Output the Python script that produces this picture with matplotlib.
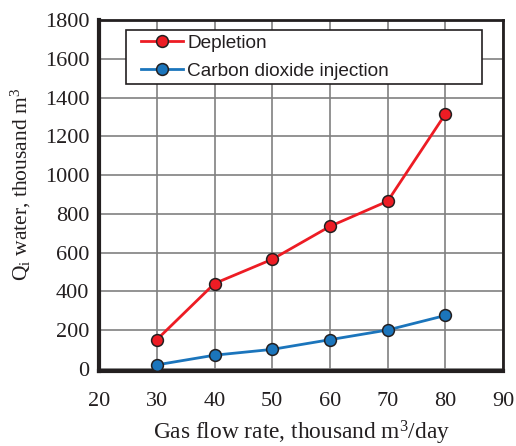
import matplotlib
matplotlib.use("Agg")
import matplotlib.pyplot as plt
from matplotlib.patches import Rectangle

flow = [30, 40, 50, 60, 70, 80]
depletion = [150, 440, 565, 735, 865, 1315]
co2_injection = [20, 70, 100, 150, 200, 275]
series_names = ["Depletion", "Carbon dioxide injection"]
xticks = [20, 30, 40, 50, 60, 70, 80, 90]
yticks = [0, 200, 400, 600, 800, 1000, 1200, 1400, 1600, 1800]

plt.rcParams["font.family"] = ["Liberation Serif"]
plt.rcParams["mathtext.fontset"] = "custom"
plt.rcParams["mathtext.rm"] = "Liberation Serif"
plt.rcParams["mathtext.it"] = "Liberation Serif:italic"
plt.rcParams["axes.formatter.use_mathtext"] = False

INK = "#231f20"
fig = plt.figure(figsize=(5.16, 4.46), dpi=100)
ax = fig.add_axes([0.192, 0.168, 0.783, 0.787])

ax.plot(flow, depletion, color="#ed1c24", lw=2, marker="o", ms=8.5,
        mfc="#ed1c24", mec=INK, mew=1.1, label=series_names[0], zorder=3)
ax.plot(flow, co2_injection, color="#1b75bc", lw=2, marker="o", ms=8.5,
        mfc="#1b75bc", mec=INK, mew=1.1, label=series_names[1], zorder=3)

ax.set_xlim(20, 90)
ax.set_ylim(-12, 1800)
ax.set_xticks(xticks)
ax.set_yticks(yticks)
ax.set_xticklabels([str(t) for t in xticks], fontfamily="Liberation Serif")
ax.set_yticklabels([str(t) for t in yticks], fontfamily="Liberation Serif")
ax.grid(True, color="#808080", lw=1.2)
ax.set_axisbelow(True)
for s in ["left", "bottom"]:
    ax.spines[s].set_linewidth(3)
for s in ["top", "right"]:
    ax.spines[s].set_linewidth(2)
for s in ax.spines.values():
    s.set_color(INK)
ax.tick_params(axis="x", length=0, pad=15, labelsize=16, labelcolor=INK)
ax.tick_params(axis="y", length=0, pad=7, labelsize=16, labelcolor=INK)

ax.set_xlabel("Gas flow rate, thousand m$^3$/day", fontsize=16.8, labelpad=6,
              color=INK)
ax.set_ylabel("Q$_\\mathrm{i}$ water, thousand m$^3$", fontsize=15.5, labelpad=10,
              color=INK)
ax.yaxis.set_label_coords(-0.163, 0.533)

# legend frame
ax.add_patch(Rectangle((0.067, 0.818), 0.881, 0.1535, transform=ax.transAxes,
                       facecolor="white", edgecolor=INK, lw=1.2, zorder=4,
                       clip_on=False))
leg = ax.legend(loc="upper left", bbox_to_anchor=(0.103, 0.959), frameon=False,
                prop={"family": "Liberation Sans", "size": 13.7}, handlelength=2.2,
                borderpad=0, labelspacing=0.56, handletextpad=0.25,
                borderaxespad=0)
leg.set_zorder(5)
for t in leg.get_texts():
    t.set_color(INK)

fig.savefig("out.png", dpi=100)
